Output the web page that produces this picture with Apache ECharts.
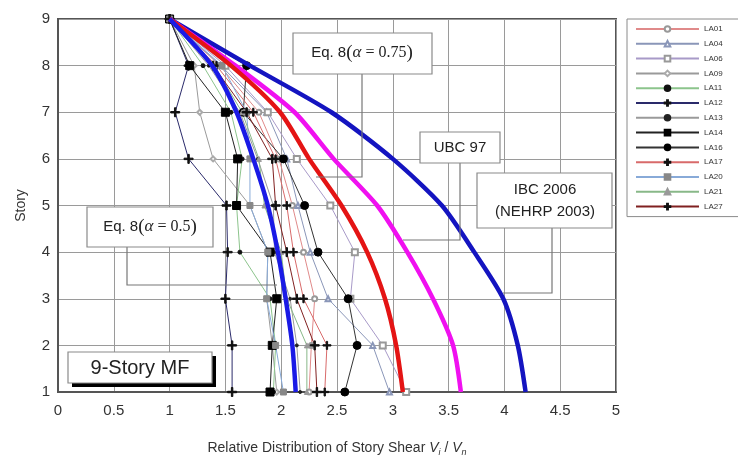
<!DOCTYPE html>
<html>
<head>
<meta charset="utf-8">
<script src="https://cdn.jsdelivr.net/npm/echarts@6/dist/echarts.min.js"></script>
<style>
  html, body { margin: 0; padding: 0; background: #fff; }
  #chart { width: 738px; height: 459px; }
</style>
</head>
<body>
<div id="chart"></div>
<script>
// stories, top to bottom
const stories = [9, 8, 7, 6, 5, 4, 3, 2, 1]

// code curves (relative story shear Vi/Vn)
const ibc2006 = [1.0, 1.72, 2.45, 3.0, 3.44, 3.73, 3.99, 4.12, 4.19]
const ubc97 = [1.0, 1.59, 2.12, 2.47, 2.86, 3.13, 3.36, 3.54, 3.61]
const eq8a075 = [1.0, 1.55, 1.99, 2.25, 2.54, 2.77, 2.93, 3.03, 3.09]
const eq8a05 = [1.0, 1.38, 1.6, 1.75, 1.88, 1.97, 2.04, 2.1, 2.13]

// ground motion records
const LA01 = [1.0, 1.45, 1.8, 1.98, 2.1, 2.2, 2.3, 2.27, 2.25]
const LA04 = [1.0, 1.46, 1.87, 2.05, 2.15, 2.26, 2.42, 2.82, 2.97]
const LA06 = [1.0, 1.5, 1.88, 2.14, 2.44, 2.66, 2.62, 2.91, 3.12]
const LA09 = [1.0, 1.22, 1.27, 1.39, 1.72, 1.88, 1.87, 1.92, 1.96]
const LA11 = [1.0, 1.3, 1.55, 1.65, 1.6, 1.63, 1.9, 1.95, 1.93]
const LA12 = [1.0, 1.17, 1.05, 1.17, 1.51, 1.52, 1.5, 1.56, 1.56]
const LA13 = [1.0, 1.35, 1.63, 1.79, 1.93, 1.94, 2.08, 2.14, 2.17]
const LA14 = [1.0, 1.18, 1.5, 1.61, 1.6, 1.9, 1.96, 1.92, 1.9]
const LA16 = [1.0, 1.69, 1.66, 2.02, 2.21, 2.33, 2.6, 2.68, 2.57]
const LA17 = [1.0, 1.42, 1.75, 1.95, 2.05, 2.11, 2.2, 2.41, 2.39]
const LA20 = [1.0, 1.47, 1.69, 1.72, 1.72, 1.88, 1.87, 1.95, 2.02]
const LA21 = [1.0, 1.4, 1.65, 1.8, 1.85, 2.0, 2.05, 2.23, 2.23]
const LA27 = [1.0, 1.39, 1.69, 1.92, 1.95, 2.05, 2.14, 2.3, 2.32]

const PLUS = 'path://M0,4.2h10v1.6H0z M4.2,0h1.6v10H4.2z'

// name, values, symbol, size, line color, marker color
const records = [
  ['LA01', LA01, 'emptyCircle', 5, '#e08a8a', '#999'],
  ['LA04', LA04, 'emptyTriangle', 5, '#8a96b8', '#8a96b8'],
  ['LA06', LA06, 'emptyRect', 6, '#a89ac8', '#999'],
  ['LA09', LA09, 'emptyDiamond', 5, '#9a9a9a', '#aaa'],
  ['LA11', LA11, 'circle', 4, '#8cc48c', '#111'],
  ['LA12', LA12, PLUS, 9, '#2a2a6a', '#111'],
  ['LA13', LA13, 'circle', 3, '#9a9a9a', '#222'],
  ['LA14', LA14, 'rect', 8, '#222', '#000'],
  ['LA16', LA16, 'circle', 8, '#333', '#000'],
  ['LA17', LA17, PLUS, 8, '#d86a6a', '#111'],
  ['LA20', LA20, 'rect', 6, '#88aad8', '#888'],
  ['LA21', LA21, 'triangle', 5, '#88b888', '#999'],
  ['LA27', LA27, PLUS, 9, '#802020', '#111']
]

const pairs = vals => vals.map((v, i) => [v, stories[i]])

const chart = echarts.init(document.getElementById('chart'))

const series = records.map(([name, vals, sym, size, lc, mc]) => ({
  name: name,
  type: 'line',
  data: pairs(vals),
  symbol: sym,
  symbolSize: size,
  showAllSymbol: true,
  lineStyle: { color: lc, width: 1 },
  itemStyle: { color: mc, borderColor: mc, borderWidth: 1 },
  z: 2,
  emphasis: { disabled: true }
}))

const thick = [
  ['IBC 2006', ibc2006, '#1414c0'],
  ['UBC 97', ubc97, '#f010f0'],
  ['Eq8a075', eq8a075, '#e41414'],
  ['Eq8a05', eq8a05, '#1a1ae6']
]
thick.forEach(([name, vals, c]) => {
  series.push({
    name: name,
    type: 'line',
    data: pairs(vals),
    symbol: 'none',
    smooth: 0.25,
    lineStyle: { color: c, width: 4.5 },
    z: 5,
    emphasis: { disabled: true }
  })
})

const sans = '"Liberation Sans", Arial, sans-serif'
const serif = '"Liberation Serif", "DejaVu Serif", serif'

const box = (x, y, w, h) => ({
  type: 'rect', z: 100,
  shape: { x: x, y: y, width: w, height: h },
  style: { fill: '#fff', stroke: '#8a8a8a', lineWidth: 1.2 }
})
const leader = pts => ({
  type: 'polyline', z: 99,
  shape: { points: pts },
  style: { stroke: '#777', lineWidth: 1.2, fill: null }
})
const label = (x, y, text, rich, size) => ({
  type: 'text', z: 101, x: x, y: y,
  style: {
    text: text, rich: rich || {},
    font: (size || 15) + 'px ' + sans,
    fill: '#222', align: 'center', verticalAlign: 'middle'
  }
})
const eqRich = {
  s: { fontFamily: sans, fontSize: 15, fill: '#222' },
  p: { fontFamily: serif, fontSize: 19, fill: '#222' },
  g: { fontFamily: serif, fontStyle: 'italic', fontSize: 17, fill: '#222' },
  n: { fontFamily: serif, fontSize: 16, fill: '#222' }
}

chart.setOption({
  animation: false,
  backgroundColor: '#fff',
  grid: {
    left: 58, right: 122, top: 19, bottom: 67,
    outerBoundsMode: 'none', containLabel: false,
    show: true, borderColor: '#555', borderWidth: 2
  },
  xAxis: {
    type: 'value', min: 0, max: 5, interval: 0.5,
    axisLine: { show: true, lineStyle: { color: '#555', width: 2 } },
    axisTick: { show: false },
    axisLabel: { color: '#333', fontSize: 15, fontFamily: sans, margin: 11 },
    splitLine: { lineStyle: { color: '#9a9a9a', width: 1 } },
    name: '{t|Relative Distribution of Story Shear }{v|V}{b|i}{t| / }{v|V}{b|n}',
    nameLocation: 'middle', nameGap: 48,
    nameTextStyle: {
      rich: {
        t: { fontFamily: sans, fontSize: 14, color: '#333' },
        v: { fontFamily: sans, fontStyle: 'italic', fontSize: 14, color: '#333' },
        b: { fontFamily: sans, fontStyle: 'italic', fontSize: 9, color: '#333', verticalAlign: 'bottom', padding: [8, 0, 0, 0] }
      }
    }
  },
  yAxis: {
    type: 'value', min: 1, max: 9, interval: 1,
    axisLine: { show: true, lineStyle: { color: '#555', width: 2 } },
    axisTick: { show: false },
    axisLabel: { color: '#333', fontSize: 15, fontFamily: sans, margin: 8 },
    splitLine: { lineStyle: { color: '#9a9a9a', width: 1 } },
    name: 'Story', nameLocation: 'middle', nameGap: 30, nameRotate: 90,
    nameTextStyle: { fontFamily: sans, fontSize: 14, color: '#333' }
  },
  legend: {
    data: records.map(r => r[0]),
    orient: 'vertical',
    left: 627, top: 19,
    padding: [6, 22, 6, 8],
    itemWidth: 63, itemHeight: 7, itemGap: 6.8,
    borderColor: '#8a8a8a', borderWidth: 1,
    selectedMode: false,
    textStyle: { fontSize: 8, fontFamily: sans, color: '#333', lineHeight: 8 }
  },
  series: series,
  graphic: [
    leader([[362, 74], [362, 177], [316, 177]]),
    box(293, 33, 139, 41),
    label(362, 53, '{s|Eq. 8}{p|(}{g|α}{n| = 0.75}{p|)}', eqRich),
    leader([[460, 163], [460, 240], [403, 240]]),
    box(420, 132, 80, 31),
    label(460, 148, 'UBC 97'),
    leader([[552, 228], [552, 293], [503, 293]]),
    box(477, 173, 135, 55),
    label(545, 190, 'IBC 2006'),
    label(545, 212, '(NEHRP 2003)'),
    leader([[127, 247], [127, 285], [277, 285]]),
    box(87, 207, 126, 40),
    label(150, 227, '{s|Eq. 8}{p|(}{g|α}{n| = 0.5}{p|)}', eqRich),
    { type: 'rect', z: 100, shape: { x: 72, y: 356, width: 144, height: 31 }, style: { fill: '#000' } },
    box(68, 352, 144, 31),
    label(140, 368, '9-Story MF', null, 20)
  ]
})
</script>
</body>
</html>
